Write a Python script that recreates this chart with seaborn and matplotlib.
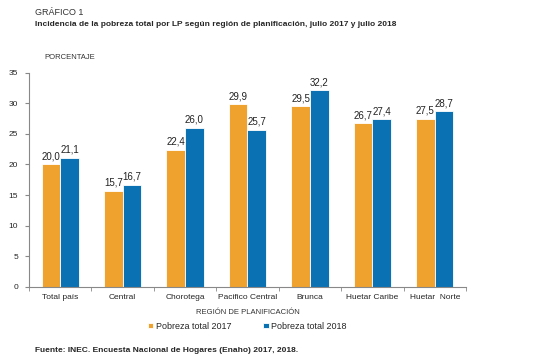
import pandas as pd
import numpy as np
import matplotlib.pyplot as plt
import seaborn as sns

# Datos
regiones = ['Total país', 'Central', 'Chorotega', 'Pacifico Central', 'Brunca', 'Huetar Caribe', 'Huetar  Norte']
pobreza_2017 = [20.0, 15.7, 22.4, 29.9, 29.5, 26.7, 27.5]
pobreza_2018 = [21.1, 16.7, 26.0, 25.7, 32.2, 27.4, 28.7]
series = ['Pobreza total 2017', 'Pobreza total 2018']

df = pd.DataFrame({
    'Región': regiones * 2,
    'Valor': pobreza_2017 + pobreza_2018,
    'Serie': [series[0]] * len(regiones) + [series[1]] * len(regiones),
})

sns.set_style('white')
plt.rcParams['font.family'] = ['Liberation Sans', 'DejaVu Sans']

fig = plt.figure(figsize=(5.38, 3.58), dpi=100)
ax = fig.add_axes([0.054, 0.199, 0.812, 0.598])

colores = ['#F0A22E', '#0A71B3']
sns.barplot(data=df, x='Región', y='Valor', hue='Serie', palette=colores, saturation=1,
            width=0.6, edgecolor='white', linewidth=0.6, ax=ax, legend=True)

for cont in ax.containers:
    ax.bar_label(cont, labels=[f'{v:.1f}'.replace('.', ',') for v in cont.datavalues],
                 padding=2, fontsize=7, color='#222222')

ax.set_ylim(0, 35)
ax.set_yticks(range(0, 36, 5))
ax.set_xlim(-0.5, len(regiones) - 0.5)
ax.tick_params(axis='y', labelsize=6, length=3, color='#888888', direction='out', left=True, pad=5)
ax.tick_params(axis='x', labelsize=6, length=0, pad=5)
ax.set_xticks(np.arange(-0.5, len(regiones), 1), minor=True)
ax.tick_params(axis='x', which='minor', length=3, color='#888888', bottom=True)
for s in ['top', 'right']:
    ax.spines[s].set_visible(False)
for s in ['left', 'bottom']:
    ax.spines[s].set_color('#888888')
    ax.spines[s].set_linewidth(0.8)

ax.set_xlabel('REGIÓN DE PLANIFICACIÓN', fontsize=5.5, labelpad=6, color='#333333')
ax.set_ylabel('')

ax.legend(loc='upper center', bbox_to_anchor=(0.5, -0.125), ncol=2, frameon=False,
          fontsize=6.5, handlelength=0.6, handleheight=0.6, columnspacing=3.5,
          handletextpad=0.3)

fig.text(0.065, 0.958, 'GRÁFICO 1', fontsize=6.5, color='#333333')
fig.text(0.065, 0.928, 'Incidencia de la pobreza total por LP según región de planificación, julio 2017 y julio 2018',
         fontsize=6, fontweight='bold')
fig.text(0.083, 0.835, 'PORCENTAJE', fontsize=5.5, color='#333333')
fig.text(0.065, 0.018, 'Fuente: INEC. Encuesta Nacional de Hogares (Enaho) 2017, 2018.',
         fontsize=6, fontweight='bold')

fig.savefig('out.png', dpi=100)
